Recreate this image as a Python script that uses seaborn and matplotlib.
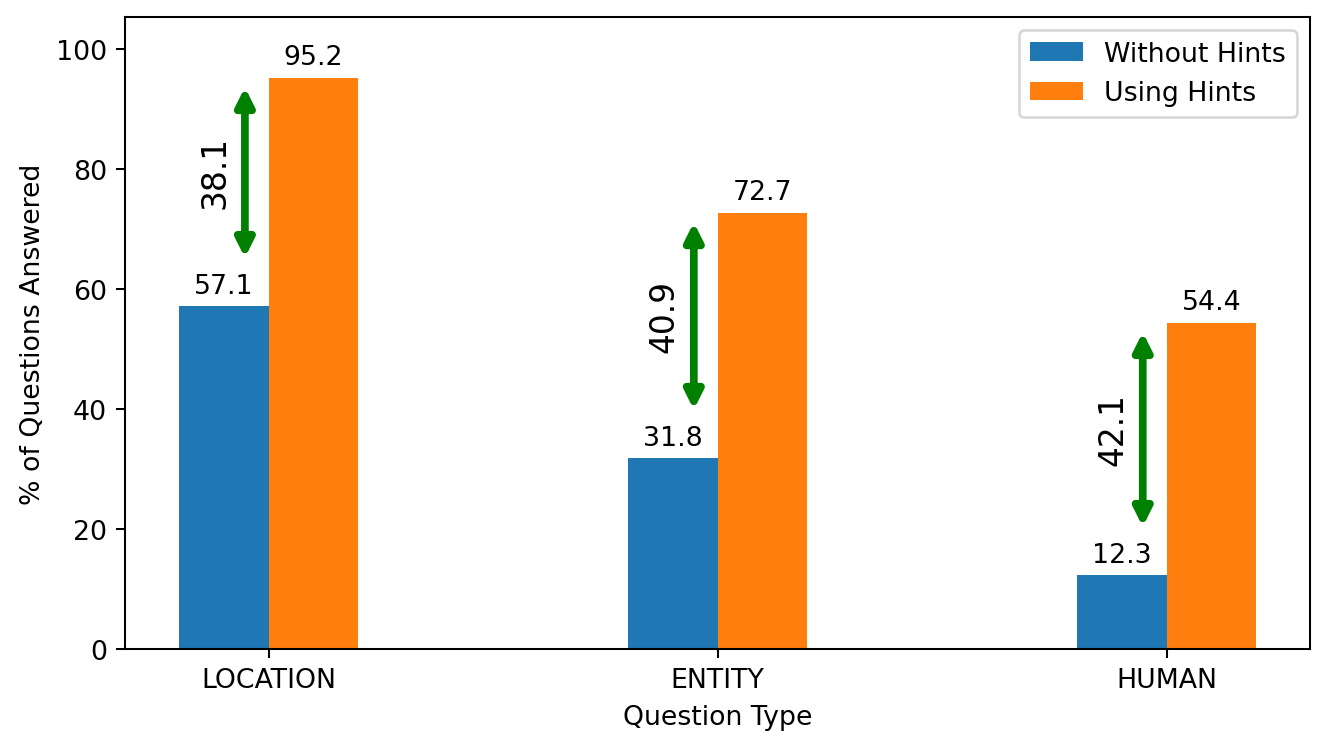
import matplotlib
matplotlib.use("Agg")
import matplotlib.pyplot as plt
import seaborn as sns
import pandas as pd

categories = ["LOCATION", "ENTITY", "HUMAN"]
without_hints = [57.1, 31.8, 12.3]
using_hints = [95.2, 72.7, 54.4]
gains = [38.1, 40.9, 42.1]
series_names = ["Without Hints", "Using Hints"]

df = pd.DataFrame({
    "Question Type": categories * 2,
    "value": without_hints + using_hints,
    "series": [series_names[0]] * 3 + [series_names[1]] * 3,
})

plt.rcParams['font.family'] = ['DejaVu Sans']
fs = 10.4

fig = plt.figure(figsize=(7.19, 4.054), dpi=185)
ax = fig.add_axes([0.094, 0.133, 0.891, 0.843])

sns.barplot(data=df, x="Question Type", y="value", hue="series",
            palette=["#1f77b4", "#ff7f0e"], saturation=1, width=0.4,
            linewidth=0, ax=ax, errorbar=None)

for c in ax.containers:
    ax.bar_label(c, fmt="%.1f", padding=3, fontsize=fs, color="black")

for i, (lo, hi, g) in enumerate(zip(without_hints, using_hints, gains)):
    x = i - 0.053
    ax.annotate("", xy=(x, hi - 1.6), xytext=(x, lo + 8.1),
                arrowprops=dict(arrowstyle="<|-|>", color="green", lw=3,
                                shrinkA=0, shrinkB=0, mutation_scale=14))
    ax.text(i - 0.12, (lo + hi) / 2 + 3.4, f"{g:.1f}", rotation=90,
            ha="center", va="center", fontsize=12.8, color="black")

ax.set_xlim(-0.32, 2.32)
ax.set_ylim(0, 105.3)
ax.set_xlabel("Question Type", fontsize=fs, color="black")
ax.set_ylabel("% of Questions Answered", fontsize=fs, color="black")
ax.tick_params(labelsize=fs, colors="black")
for s in ax.spines.values():
    s.set_visible(True)
    s.set_color("black")
    s.set_linewidth(0.8)
ax.legend(loc="upper right", fontsize=fs, title=None)

fig.savefig("out.png", dpi=185)
